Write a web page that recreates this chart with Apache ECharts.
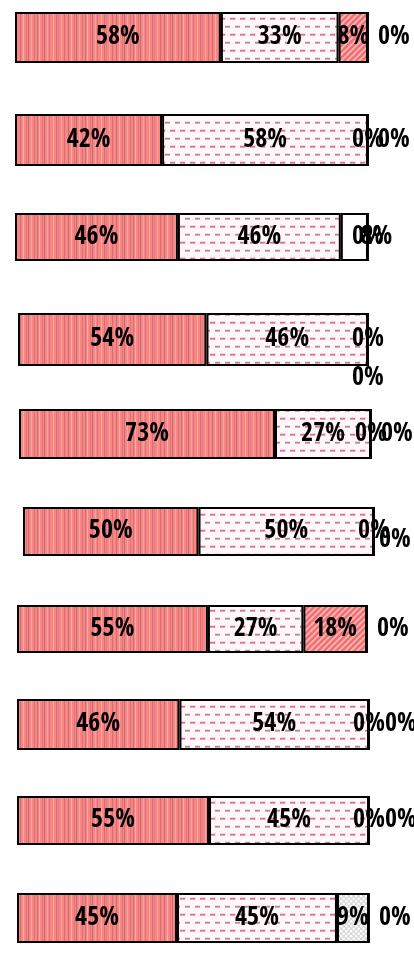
<!DOCTYPE html>
<html><head><meta charset="utf-8">
<script src="https://cdn.jsdelivr.net/npm/echarts@6/dist/echarts.min.js"></script>
<style>html,body{margin:0;padding:0;background:#fff}#c{width:414px;height:967px}</style>
</head><body><div id="c"></div>
<script>
// ---- data (percent shares per row) ----
const categories = ['1','2','3','4','5','6','7','8','9','10'];
const seriesA = [58.33, 41.67, 46.15, 53.85, 72.73, 50, 54.55, 46.15, 54.55, 45.45];
const seriesB = [33.33, 58.33, 46.15, 46.15, 27.27, 50, 27.27, 53.85, 45.45, 45.45];
const seriesC = [8.33, 0, 7.69, 0, 0, 0, 18.18, 0, 0, 9.09];
const seriesD = [0, 0, 0, 0, 0, 0, 0, 0, 0, 0];

// ---- layout of each bar box (px) ----
const boxes = [
  [15, 12, 353, 51], [15, 114, 353, 52], [15, 213, 353, 48], [18, 313, 350, 53],
  [19, 409, 352, 50], [23, 507, 351, 49], [17, 605, 350, 48], [17, 699, 352, 51],
  [17, 796, 352, 49], [17, 893, 352, 50]
];
// fill used for the third segment of each row
const thirdFill = ['hatch','hatch','plain','hatch','hatch','hatch','hatch','hatch','hatch','dots'];
// label nudges for crowded zero labels
const labelTweak = {
  2: {C: {offset: [22, 0]}, D: {position: 'inside'}},
  3: {D: {offset: [-26, 39]}},
  5: {D: {offset: [-5, 9]}},
  7: {D: {offset: [6, 0]}},
  8: {D: {offset: [6, 0]}}
};

function tile(w, h, draw) {
  const c = document.createElement('canvas'); c.width = w; c.height = h;
  draw(c.getContext('2d')); return c;
}
const stripe = tile(48, 4, g => {
  g.fillStyle = '#fa8682'; g.fillRect(0, 0, 48, 4);
  const L = [[1,'#d8747c'],[5,'#fbaaa8'],[8,'#cf6e7c'],[10,'#e07c84'],[13,'#f9a4a2'],
    [16,'#d2707c'],[20,'#cc6c7a'],[23,'#fbb0ae'],[26,'#d8767f'],[28,'#c86a78'],
    [31,'#f8a6a4'],[34,'#d6747f'],[37,'#ce6e7a'],[39,'#fbaaa8'],[42,'#da7882'],[44,'#c8697a'],[47,'#f6a2a2']];
  L.forEach(([x, col]) => { g.fillStyle = col; g.fillRect(x, 0, 1, 4); });
});
const dash = tile(10, 16, g => {
  g.fillStyle = '#fff7f8'; g.fillRect(0, 0, 10, 16);
  g.fillStyle = '#f8d6df'; g.fillRect(0, 1, 6, 3);
  g.fillStyle = '#de6d90'; g.fillRect(0, 2, 5, 1.5);
  g.fillStyle = '#f0dde2'; g.fillRect(5, 9, 5, 3);
  g.fillStyle = '#c08494'; g.fillRect(5, 10, 5, 1.5);
});
const hatch = tile(6, 6, g => {
  g.fillStyle = '#ef6f72'; g.fillRect(0, 0, 6, 6);
  g.strokeStyle = '#f9b8b6'; g.lineWidth = 1.6;
  [[-6], [0], [6]].forEach(([dx]) => {
    g.beginPath(); g.moveTo(dx, 6); g.lineTo(dx + 6, 0); g.stroke();
  });
  g.beginPath(); g.moveTo(-3, 3); g.lineTo(3, -3); g.stroke();
  g.beginPath(); g.moveTo(3, 9); g.lineTo(9, 3); g.stroke();
});
const dots = tile(5, 5, g => {
  g.fillStyle = '#d9d9d9'; g.fillRect(0, 0, 5, 5);
  g.fillStyle = '#ffffff';
  g.beginPath(); g.arc(1.2, 1.2, 1.3, 0, 7); g.fill();
  g.beginPath(); g.arc(3.7, 3.7, 1.3, 0, 7); g.fill();
});
const fills = {
  A: {image: stripe, repeat: 'repeat'},
  B: {image: dash, repeat: 'repeat'},
  hatch: {image: hatch, repeat: 'repeat'},
  dots: {image: dots, repeat: 'repeat'},
  plain: '#ffffff'
};

const FONT = "'Open Sans Condensed', 'Roboto Condensed', 'DejaVu Sans Condensed', sans-serif";
const grid = [], xAxis = [], yAxis = [], series = [];
categories.forEach((cat, i) => {
  const [l, t, w, h] = boxes[i];
  grid.push({left: l, top: t, width: w, height: h});
  xAxis.push({type: 'value', gridIndex: i, min: 0, max: 100, show: false});
  yAxis.push({type: 'category', gridIndex: i, data: [cat], show: false});
  const parts = [['A', seriesA[i], fills.A], ['B', seriesB[i], fills.B],
                 ['C', seriesC[i], fills[thirdFill[i]]], ['D', seriesD[i], fills.dots]];
  parts.forEach(([key, v, fill]) => {
    let pos = 'inside', dist = 5;
    if (v === 0 && key === 'D') { pos = 'right'; dist = 9; }
    const tw = (labelTweak[i] && labelTweak[i][key]) || {};
    series.push({
      type: 'bar', name: key, xAxisIndex: i, yAxisIndex: i, stack: 's' + i,
      barWidth: '100%', data: [v], silent: true, animation: false,
      itemStyle: {color: fill, borderColor: '#000', borderWidth: 2},
      label: Object.assign({
        show: true, position: pos, distance: dist, color: '#000',
        fontFamily: FONT, fontWeight: 'bold', fontSize: 26,
        formatter: p => Math.round(p.value) + '%'
      }, tw)
    });
  });
});

const chart = echarts.init(document.getElementById('c'), null, {renderer: 'canvas'});
chart.setOption({backgroundColor: '#fff', animation: false, grid, xAxis, yAxis, series});
</script></body></html>
